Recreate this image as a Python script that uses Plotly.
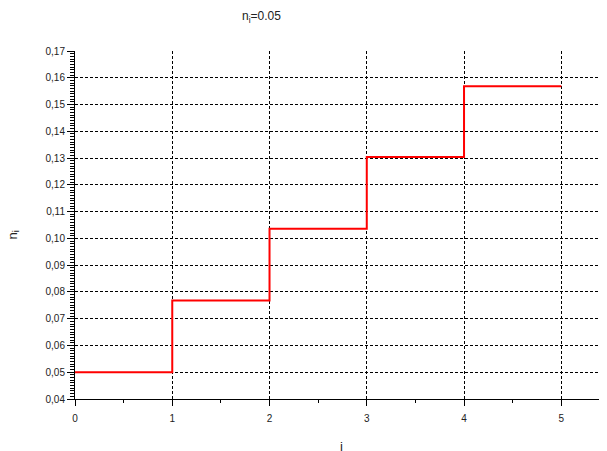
import plotly.graph_objects as go

# data
i_vals = [0, 1, 2, 3, 4, 5]
n_vals = [0.05, 0.0768, 0.1036, 0.1304, 0.1568, 0.1568]
grid_y = [0.05, 0.06, 0.07, 0.08, 0.09, 0.10, 0.11, 0.12, 0.13, 0.14, 0.15, 0.16]
y_ticks = [0.04, 0.05, 0.06, 0.07, 0.08, 0.09, 0.10, 0.11, 0.12, 0.13, 0.14, 0.15, 0.16, 0.17]
title_text = "n<sub>i</sub>=0.05"

fig = go.Figure()
fig.add_trace(go.Scatter(x=i_vals, y=n_vals, mode="lines", line=dict(color="#ff0000", width=2, shape="hv"),
                         showlegend=False, hoverinfo="skip"))
fig.add_trace(go.Scatter(x=[i_vals[0]], y=[n_vals[0]], yaxis="y2", mode="markers", marker=dict(opacity=0),
                         showlegend=False, hoverinfo="skip"))

tickfont = dict(family="Liberation Sans, Arial, sans-serif", size=10, color="#222")
fig.update_layout(
    width=599, height=443,
    margin=dict(l=67, r=0, t=43, b=52, autoexpand=False),
    paper_bgcolor="white", plot_bgcolor="white",
    separators=", ",
    xaxis=dict(range=[0, 5.47], dtick=1, tick0=0, showgrid=True, gridcolor="black", gridwidth=1,
               griddash="3px,2px", showline=True, linecolor="black", linewidth=1, automargin=False,
               ticks="outside", ticklen=6, tickcolor="black", tickfont=tickfont, ticklabelstandoff=4,
               minor=dict(dtick=0.5, ticks="outside", ticklen=3, tickcolor="black", showgrid=False),
               zeroline=False),
    yaxis=dict(range=[0.04, 0.17], tickvals=y_ticks, tickformat=".2f", showgrid=False, automargin=False,
               showline=True, linecolor="black", linewidth=1,
               ticks="outside", ticklen=7, tickcolor="black", tickfont=tickfont,
               minor=dict(dtick=0.001, tick0=0.04, ticks="outside", ticklen=4, tickcolor="black", showgrid=False),
               zeroline=False),
    yaxis2=dict(range=[0.04, 0.17], overlaying="y", tickvals=grid_y, showticklabels=False, ticks="",
                showgrid=True, gridcolor="black", gridwidth=1, griddash="3px,2px", showline=False,
                zeroline=False, automargin=False),
    annotations=[
        dict(text=title_text, xref="paper", yref="paper", x=0.35, y=1, yshift=34, xanchor="center",
             yanchor="middle", showarrow=False,
             font=dict(family="Liberation Sans, Arial, sans-serif", size=12, color="#222")),
        dict(text="n<sub>i</sub>", xref="paper", yref="paper", x=0, y=0.47, xshift=-62, xanchor="center",
             yanchor="middle", textangle=-90, showarrow=False,
             font=dict(family="Liberation Sans, Arial, sans-serif", size=13, color="#222")),
        dict(text="i", xref="paper", yref="paper", x=0.5, y=0, yshift=-38, xanchor="center",
             yanchor="top", showarrow=False,
             font=dict(family="Liberation Sans, Arial, sans-serif", size=13, color="#222")),
    ],
)

fig.write_html("out.html")
